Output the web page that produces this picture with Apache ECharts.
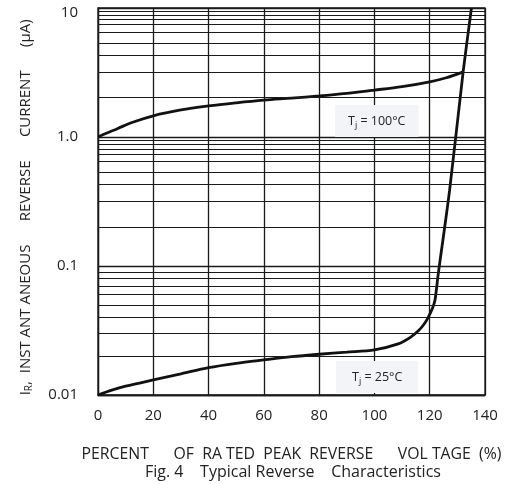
<!DOCTYPE html>
<html>
<head>
<meta charset="utf-8">
<script src="https://cdn.jsdelivr.net/npm/echarts@6/dist/echarts.min.js"></script>
<style>html,body{margin:0;padding:0;background:#fff}#c{width:515px;height:484px}</style>
</head>
<body>
<div id="c"></div>
<script>
// ---- data ----
const xTicks = [0, 20, 40, 60, 80, 100, 120, 140];
const yTickLabels = {"10": "10", "1": "1.0", "0.1": "0.1", "0.01": "0.01"};
const decadeTops = [10, 1, 0.1];
const minorFactors = [0.94, 0.88, 0.815, 0.745, 0.646, 0.533, 0.432, 0.316, 0.204];

const x100 = [0, 3, 7, 12, 20, 30, 40, 50, 60, 70, 80, 90, 100, 110, 120, 126, 132.1];
const y100 = [1.0, 1.07, 1.16, 1.29, 1.46, 1.62, 1.74, 1.84, 1.93, 2.0, 2.08, 2.18, 2.31, 2.46, 2.68, 2.88, 3.2];

const x25 = [0, 5, 10, 20, 30, 40, 50, 60, 70, 80, 90, 100, 108.6, 113, 116, 118, 119.5, 121, 121.9, 123.1, 127.2, 132.1, 135.1];
const y25 = [0.01, 0.0109, 0.0117, 0.0131, 0.0146, 0.0163, 0.0176, 0.0187, 0.0198, 0.0207, 0.0215, 0.0224, 0.0249, 0.028, 0.0316, 0.0355, 0.0402, 0.047, 0.0542, 0.0873, 0.387, 3.21, 10];

const label100 = "100";
const label25 = "25";

// ---- build ----
const zip = (xs, ys) => xs.map((x, i) => [x, ys[i]]);
const minorLines = [];
decadeTops.forEach(t => minorFactors.forEach(f => minorLines.push({yAxis: t * f})));

const FONT = "'Open Sans', 'Noto Sans', sans-serif";
const TXT = '#222';
const chart = echarts.init(document.getElementById('c'), null, {renderer: 'canvas'});
chart.setOption({
  animation: false,
  backgroundColor: '#fff',
  grid: {left: 98, top: 8, width: 387, height: 387, show: true, borderColor: '#1a1a1a', borderWidth: 1.3},
  xAxis: {
    type: 'value', min: 0, max: 140, interval: 20,
    name: 'PERCENT      OF  RA TED  PEAK  REVERSE      VOL TAGE  (%)',
    nameLocation: 'middle', nameGap: 51,
    nameTextStyle: {fontFamily: FONT, fontSize: 15.8, color: TXT},
    axisLine: {lineStyle: {color: '#1a1a1a', width: 1.3}},
    axisTick: {show: false},
    axisLabel: {fontFamily: FONT, fontSize: 15, color: TXT, margin: 13,
      formatter: v => xTicks.includes(v) ? String(v) : ''},
    splitLine: {show: true, lineStyle: {color: '#1a1a1a', width: 1.3}}
  },
  yAxis: {
    type: 'log', logBase: 10, min: 0.01, max: 10,
    name: '{n|I}{s|R}{n|,  INST ANT ANEOUS      REVERSE      CURRENT      (μA)   }',
    nameLocation: 'middle', nameGap: 64, nameRotate: 90,
    nameTextStyle: {fontFamily: FONT, fontSize: 15, color: TXT,
      rich: {n: {fontFamily: FONT, fontSize: 15, color: TXT},
             s: {fontFamily: FONT, fontSize: 10, color: TXT, verticalAlign: 'bottom', padding: [7, 0, 0, 0]}}},
    axisLine: {show: true, lineStyle: {color: '#1a1a1a', width: 1.3}},
    axisTick: {show: false},
    axisLabel: {fontFamily: FONT, fontSize: 15, color: TXT, margin: 20,
      rich: {top: {fontFamily: FONT, fontSize: 15, color: TXT, padding: [10, 0, 0, 0]}},
      formatter: v => {
        const k = String(+v.toPrecision(3));
        if (yTickLabels[k] === undefined) return '';
        return k === '10' ? '{top|' + yTickLabels[k] + '}' : yTickLabels[k];
      }},
    splitLine: {show: true, lineStyle: {color: '#1a1a1a', width: 1.3}}
  },
  series: [
    {
      type: 'line', data: zip(x100, y100), smooth: 0.35, symbol: 'none',
      lineStyle: {color: '#111', width: 2.8},
      markLine: {silent: true, symbol: 'none', label: {show: false},
        lineStyle: {color: '#1a1a1a', width: 1.1, type: 'solid'}, data: minorLines, animation: false}
    },
    {
      type: 'line', data: zip(x25, y25), smooth: 0.3, symbol: 'none',
      lineStyle: {color: '#111', width: 2.8}, z: 3
    }
  ],
  graphic: [
    {type: 'text', left: 335, top: 105, z: 10,
      style: {text: '{a|T}{b|j}{a| = ' + label100 + '°C}', backgroundColor: '#f3f4f8', padding: [7, 13, 7, 13],
        rich: {a: {fontFamily: FONT, fontSize: 12.5, fill: TXT}, b: {fontFamily: FONT, fontSize: 9, fill: TXT, padding: [9, 0, 0, 0]}}}},
    {type: 'text', left: 336, top: 361, z: 10,
      style: {text: '{a|T}{b|j}{a| = ' + label25 + '°C}', backgroundColor: '#f3f4f8', padding: [7, 16, 7, 16],
        rich: {a: {fontFamily: FONT, fontSize: 12.5, fill: TXT}, b: {fontFamily: FONT, fontSize: 9, fill: TXT, padding: [9, 0, 0, 0]}}}},
    {type: 'text', left: 145, top: 464, z: 10,
      style: {text: 'Fig. 4    Typical Reverse    Characteristics', fontFamily: FONT, fontSize: 16, fill: TXT}}
  ]
});
</script>
</body>
</html>
